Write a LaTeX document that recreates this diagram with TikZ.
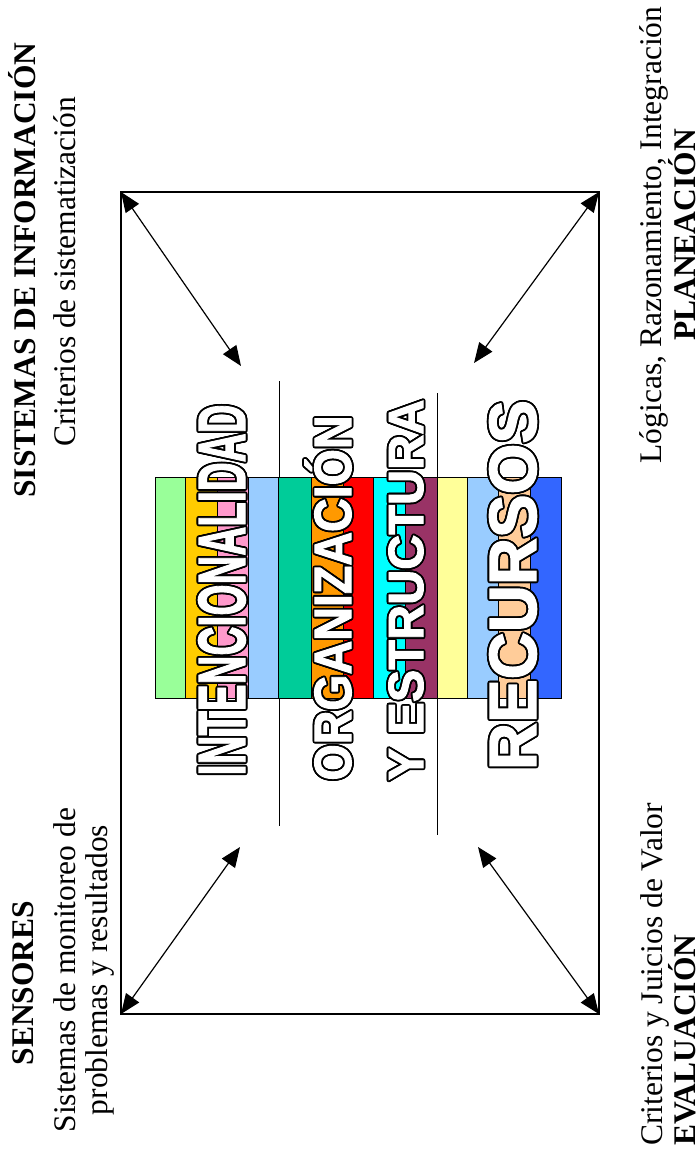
\documentclass[tikz,border=0pt]{standalone}
\usepackage{fontspec}
\usepackage{graphicx}
\setmainfont{Liberation Serif}
\newfontfamily\wafont[FakeBold=2]{Liberation Sans}
\usetikzlibrary{arrows.meta}
\definecolor{cA}{HTML}{99FF99}
\definecolor{cB}{HTML}{FFCC00}
\definecolor{cC}{HTML}{FF99CC}
\definecolor{cD}{HTML}{99CCFF}
\definecolor{cE}{HTML}{00CC99}
\definecolor{cF}{HTML}{FF9900}
\definecolor{cG}{HTML}{FF0000}
\definecolor{cH}{HTML}{00FFFF}
\definecolor{cI}{HTML}{993366}
\definecolor{cJ}{HTML}{FFFF99}
\definecolor{cK}{HTML}{99CCFF}
\definecolor{cL}{HTML}{FFCC99}
\definecolor{cM}{HTML}{3366FF}
\newcommand\oltcopy[3]{\rlap{\hspace*{#1}\raisebox{#2}{\color{black}#3}}}
\newcommand\olt[1]{\leavevmode
  \oltcopy{1.8pt}{0pt}{#1}\oltcopy{-1.8pt}{0pt}{#1}\oltcopy{0pt}{1.8pt}{#1}\oltcopy{0pt}{-1.8pt}{#1}%
  \oltcopy{1.3pt}{1.3pt}{#1}\oltcopy{-1.3pt}{1.3pt}{#1}\oltcopy{1.3pt}{-1.3pt}{#1}\oltcopy{-1.3pt}{-1.3pt}{#1}%
  \oltcopy{1.7pt}{0.7pt}{#1}\oltcopy{-1.7pt}{0.7pt}{#1}\oltcopy{1.7pt}{-0.7pt}{#1}\oltcopy{-1.7pt}{-0.7pt}{#1}%
  \oltcopy{0.7pt}{1.7pt}{#1}\oltcopy{-0.7pt}{1.7pt}{#1}\oltcopy{0.7pt}{-1.7pt}{#1}\oltcopy{-0.7pt}{-1.7pt}{#1}%
  {\color{white}#1}}
\newcommand\waword[3]{\resizebox{#1}{#2}{\wafont\bfseries\fontsize{100}{100}\selectfont\raisebox{0pt}[\fontcharht\font`N][0pt]{#3}}}
\begin{document}
\begin{tikzpicture}[x=1pt,y=-1pt,
  lbl/.style={rotate=90, anchor=base, inner sep=0pt, font=\fontsize{31.5}{36}\selectfont},
  lblb/.style={rotate=90, anchor=base, inner sep=0pt, font=\fontsize{31.5}{36}\selectfont\bfseries},
  dbl/.style={{Triangle[length=20pt,width=16pt]}-{Triangle[length=20pt,width=16pt]}, line width=1.2pt},
  wa/.style={rotate=90, inner sep=0pt},
  divider/.style={line width=1pt},
  band/.style={draw=black, line width=1pt}]
\useasboundingbox (0,0) rectangle (700,1149);
\fill[white] (0,0) rectangle (700,1149);

% frame
\node[draw, line width=1.5pt, minimum width=478pt, minimum height=822pt, outer sep=0pt, inner sep=0pt] (frame) at (360,603) {};

% dividers
\draw[divider] (279,381) -- (279,826);
\draw[divider] (437,393) -- (437,835);

% colour bands
\foreach \xa/\xb/\c in {155/185/cA,185/217/cB,217/248/cC,248/278/cD,278/311/cE,311/343/cF,343/373/cG,373/405/cH,405/437/cI,437/467/cJ,467/498/cK,498/530/cL,530/561/cM}
  \filldraw[band, fill=\c] (\xa,477) rectangle (\xb,698);

% word art
\node[wa] (w1) at (222,590) {\olt{\waword{371pt}{46pt}{INTENCIONALIDAD}}};
\node[wa] (w2) at (333,598) {\olt{\waword{365pt}{36pt}{ORGANIZACIÓN}}};
\node[wa] (w3) at (406,590) {\olt{\waword{381pt}{34pt}{Y ESTRUCTURA}}};
\node[wa] (w4) at (513,585) {\olt{\waword{370pt}{46pt}{RECURSOS}}};

% arrows
\coordinate (itl) at (241,366);
\coordinate (itr) at (474,363);
\coordinate (ibl) at (240,847);
\coordinate (ibr) at (478,847);
\draw[dbl] (frame.north west) -- (itl);
\draw[dbl] (frame.north east) -- (itr);
\draw[dbl] (frame.south west) -- (ibl);
\draw[dbl] (frame.south east) -- (ibr);

% labels
\node[lblb] (t1) at (35,270) {SISTEMAS DE INFORMACIÓN};
\node[lbl] (t2) at (75,272) {Criterios de sistematización};
\node[lblb] (t3) at (34,983) {SENSORES};
\node[lbl] (t4) at (75,970) {Sistemas de monitoreo de};
\node[lbl] (t5) at (107,970) {problemas y resultados};
\node[lbl] (t6) at (661,235) {Lógicas, Razonamiento, Integración};
\node[lblb] (t7) at (695,235) {PLANEACIÓN};
\node[lbl, anchor=base west] (t8) at (662,1146) {Criterios y Juicios de Valor};
\node[lblb, anchor=base west] (t9) at (695,1146) {EVALUACIÓN};
\end{tikzpicture}
\end{document}
